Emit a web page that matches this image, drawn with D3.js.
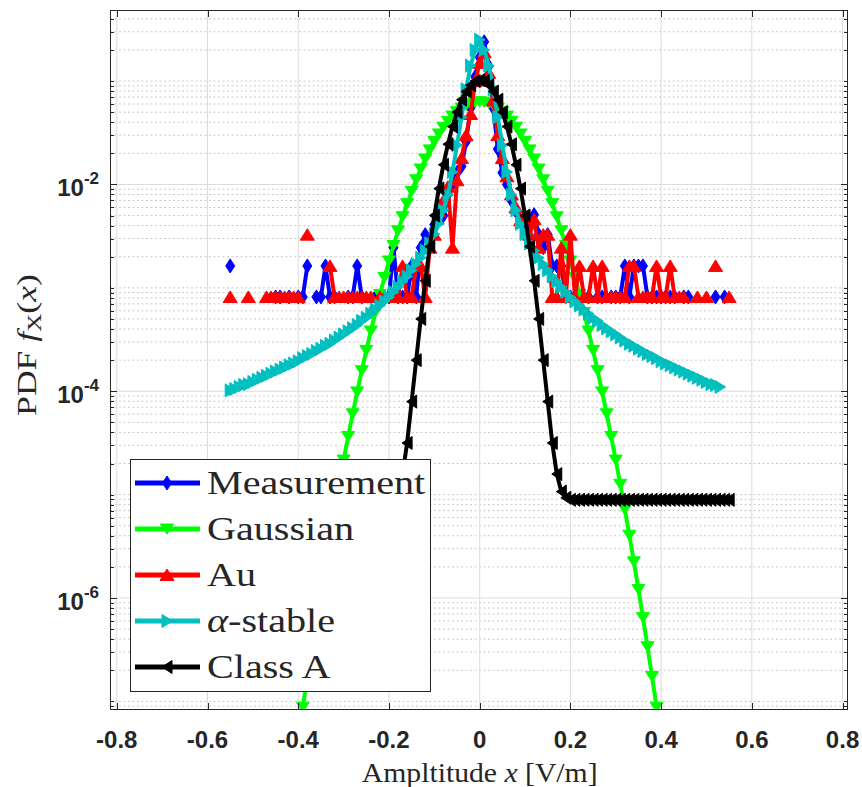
<!DOCTYPE html>
<html><head><meta charset="utf-8">
<script src="https://cdn.jsdelivr.net/npm/d3@7"></script>
<style>body{margin:0;background:#fff}svg{display:block}</style>
</head><body><svg id="c" width="862" height="787"></svg>
<script>
// ---------- data ----------
const xBins = d3.range(-55, 56).map(i => i / 100); // bin centres, -0.55 ... 0.55

const measurement = [
1.63e-3,null,null,null,null,null,null,null,null,null,
8.17e-4,8.17e-4,null,8.17e-4,null,8.17e-4,8.17e-4,1.63e-3,null,8.17e-4,
8.17e-4,1.63e-3,8.17e-4,8.17e-4,null,null,8.17e-4,8.17e-4,1.63e-3,8.17e-4,
null,null,8.17e-4,null,8.17e-4,8.17e-4,2.45e-3,8.17e-4,8.17e-4,8.17e-4,
1.63e-3,8.17e-4,2.45e-3,3.27e-3,2.45e-3,4.09e-3,6.2e-3,5.0e-3,8.0e-3,1.0e-2,
1.3e-2,1.5e-2,2.6e-2,5.5e-2,0.11,0.17,0.24,0.14,5.5e-2,2.2e-2,
1.3e-2,1.0e-2,7.0e-3,5.5e-3,4.5e-3,3.5e-3,4.2e-3,5.1e-3,3.27e-3,2.45e-3,
3.27e-3,1.63e-3,1.63e-3,1.63e-3,8.17e-4,8.17e-4,null,8.17e-4,null,8.17e-4,
null,8.17e-4,8.17e-4,null,8.17e-4,8.17e-4,8.17e-4,1.63e-3,8.17e-4,1.63e-3,
1.63e-3,1.63e-3,8.17e-4,8.17e-4,8.17e-4,8.17e-4,8.17e-4,8.17e-4,8.17e-4,null,
8.17e-4,8.17e-4,null,null,null,null,null,8.17e-4,null,8.17e-4,
null];

const gaussian = [
null,null,null,null,null,null,null,null,null,null,
null,null,null,1.02e-8,2.13e-8,4.37e-8,8.79e-8,1.74e-7,3.38e-7,6.46e-7,
1.21e-6,2.24e-6,4.05e-6,7.20e-6,1.26e-5,2.16e-5,3.65e-5,6.05e-5,9.85e-5,1.58e-4,
2.48e-4,3.82e-4,5.80e-4,8.64e-4,1.26e-3,1.82e-3,2.57e-3,3.57e-3,4.87e-3,6.52e-3,
8.59e-3,1.11e-2,1.41e-2,1.76e-2,2.16e-2,2.60e-2,3.08e-2,3.58e-2,4.09e-2,4.59e-2,
5.05e-2,5.48e-2,5.83e-2,6.09e-2,6.25e-2,6.31e-2,6.25e-2,6.09e-2,5.83e-2,5.48e-2,
5.05e-2,4.59e-2,4.09e-2,3.58e-2,3.08e-2,2.60e-2,2.16e-2,1.76e-2,1.41e-2,1.11e-2,
8.59e-3,6.52e-3,4.87e-3,3.57e-3,2.57e-3,1.82e-3,1.26e-3,8.64e-4,5.80e-4,3.82e-4,
2.48e-4,1.58e-4,9.85e-5,6.05e-5,3.65e-5,2.16e-5,1.26e-5,7.20e-6,4.05e-6,2.24e-6,
1.21e-6,6.46e-7,3.38e-7,1.74e-7,8.79e-8,4.37e-8,2.13e-8,1.02e-8,null,null,
null,null,null,null,null,null,null,null,null,null,
null];

const au = [
8.17e-4,null,null,null,8.17e-4,null,null,null,8.17e-4,8.17e-4,
8.17e-4,8.17e-4,8.17e-4,8.17e-4,8.17e-4,8.17e-4,null,3.27e-3,null,null,
null,null,1.63e-3,8.17e-4,8.17e-4,8.17e-4,8.17e-4,8.17e-4,8.17e-4,8.17e-4,
8.17e-4,8.17e-4,null,8.17e-4,8.17e-4,8.17e-4,null,8.17e-4,1.63e-3,8.17e-4,
8.17e-4,1.63e-3,1.63e-3,8.17e-4,2.45e-3,3.27e-3,5.5e-3,7.0e-3,9.5e-3,2.45e-3,
1.1e-2,1.8e-2,3.0e-2,4.8e-2,0.10,0.15,0.19,0.12,6.5e-2,3.0e-2,
1.8e-2,1.2e-2,8.0e-3,6.0e-3,4.5e-3,5.0e-3,3.27e-3,4.6e-3,2.45e-3,3.27e-3,
3.27e-3,8.17e-4,8.17e-4,2.45e-3,8.17e-4,3.27e-3,8.17e-4,1.63e-3,8.17e-4,8.17e-4,
1.63e-3,8.17e-4,1.63e-3,8.17e-4,8.17e-4,8.17e-4,8.17e-4,8.17e-4,1.63e-3,1.63e-3,
8.17e-4,8.17e-4,8.17e-4,8.17e-4,1.63e-3,8.17e-4,8.17e-4,1.63e-3,8.17e-4,8.17e-4,
8.17e-4,null,null,8.17e-4,null,8.17e-4,null,1.63e-3,null,null,
8.17e-4];

const alphaStable = [
1.02e-4,1.05e-4,1.10e-4,1.15e-4,1.17e-4,1.23e-4,1.29e-4,1.35e-4,1.41e-4,1.48e-4,
1.55e-4,1.62e-4,1.70e-4,1.78e-4,1.86e-4,1.95e-4,2.09e-4,2.19e-4,2.29e-4,2.45e-4,
2.57e-4,2.75e-4,2.88e-4,3.09e-4,3.31e-4,3.55e-4,3.80e-4,4.07e-4,4.37e-4,4.79e-4,
5.13e-4,5.62e-4,6.17e-4,6.76e-4,7.41e-4,8.13e-4,9.12e-4,1.02e-3,1.15e-3,1.29e-3,
1.48e-3,1.70e-3,1.95e-3,2.29e-3,2.69e-3,3.31e-3,4.17e-3,5.62e-3,7.94e-3,1.32e-2,
2.40e-2,4.47e-2,8.32e-2,0.141,0.200,0.251,0.200,0.141,8.32e-2,4.47e-2,
2.40e-2,1.32e-2,7.94e-3,5.62e-3,4.17e-3,3.31e-3,2.69e-3,2.29e-3,1.95e-3,1.70e-3,
1.48e-3,1.29e-3,1.15e-3,1.02e-3,9.12e-4,8.13e-4,7.41e-4,6.76e-4,6.17e-4,5.62e-4,
5.13e-4,4.79e-4,4.37e-4,4.07e-4,3.80e-4,3.55e-4,3.31e-4,3.09e-4,2.88e-4,2.75e-4,
2.57e-4,2.45e-4,2.29e-4,2.19e-4,2.09e-4,1.95e-4,1.86e-4,1.78e-4,1.70e-4,1.62e-4,
1.55e-4,1.48e-4,1.41e-4,1.35e-4,1.29e-4,1.23e-4,1.17e-4,1.15e-4,1.10e-4,null,
null];

const classA = [
8.91e-6,8.91e-6,8.91e-6,8.91e-6,8.91e-6,8.91e-6,8.91e-6,8.91e-6,8.91e-6,8.91e-6,
8.91e-6,8.91e-6,8.91e-6,8.91e-6,8.91e-6,8.91e-6,8.91e-6,8.91e-6,8.91e-6,8.91e-6,
8.91e-6,8.91e-6,8.91e-6,8.91e-6,8.91e-6,8.91e-6,8.91e-6,8.91e-6,8.91e-6,8.91e-6,
8.91e-6,8.91e-6,8.91e-6,8.91e-6,8.91e-6,8.91e-6,9.33e-6,1.07e-5,1.58e-5,3.16e-5,
7.94e-5,2.00e-4,5.01e-4,1.17e-3,2.51e-3,5.01e-3,9.12e-3,1.55e-2,2.45e-2,3.63e-2,
5.01e-2,6.61e-2,7.94e-2,9.12e-2,0.100,0.102,0.100,9.12e-2,7.94e-2,6.61e-2,
5.01e-2,3.63e-2,2.45e-2,1.55e-2,9.12e-3,5.01e-3,2.51e-3,1.17e-3,5.01e-4,2.00e-4,
7.94e-5,3.16e-5,1.58e-5,1.07e-5,9.33e-6,8.91e-6,8.91e-6,8.91e-6,8.91e-6,8.91e-6,
8.91e-6,8.91e-6,8.91e-6,8.91e-6,8.91e-6,8.91e-6,8.91e-6,8.91e-6,8.91e-6,8.91e-6,
8.91e-6,8.91e-6,8.91e-6,8.91e-6,8.91e-6,8.91e-6,8.91e-6,8.91e-6,8.91e-6,8.91e-6,
8.91e-6,8.91e-6,8.91e-6,8.91e-6,8.91e-6,8.91e-6,8.91e-6,8.91e-6,8.91e-6,8.91e-6,
8.91e-6];

const seriesNames = ["Measurement", "Gaussian", "Au", "\u03b1-stable", "Class A"];
const seriesColors = ["#0000ff", "#00ff00", "#ff0000", "#00bfbf", "#000000"];
const seriesMarkers = ["diamond", "down", "up", "right", "left"];
const seriesValues = [measurement, gaussian, au, alphaStable, classA];

const xTicks = [-0.8, -0.6, -0.4, -0.2, 0, 0.2, 0.4, 0.6, 0.8];
const xTickLabels = ["-0.8", "-0.6", "-0.4", "-0.2", "0", "0.2", "0.4", "0.6", "0.8"];
const yTicks = [1e-6, 1e-4, 1e-2];
const yTickExponents = ["-6", "-4", "-2"];

// ---------- drawing ----------
const svg = d3.select("#c");
const L = 110, R = 848, T = 10, B = 710;
const x = d3.scaleLinear().domain([-0.815, 0.812]).range([L, R]);
const y = d3.scaleLog().domain([8.26e-8, 0.487]).range([B, T]);
const axisColor = "#262626";

svg.append("rect").attr("width", 862).attr("height", 787).attr("fill", "#fff");
svg.append("defs").append("clipPath").attr("id", "plotClip")
  .append("rect").attr("x", L).attr("y", T).attr("width", R - L).attr("height", B - T);

// minor y values
const yMinor = [];
for (let n = -8; n <= 0; n++) for (let k = 1; k <= 9; k++) {
  const v = k * Math.pow(10, n);
  const isMajor = yTicks.some(t => Math.abs(t - v) / t < 1e-9);
  if (!isMajor && v >= y.domain()[0] && v <= y.domain()[1]) yMinor.push(v);
}

const grid = svg.append("g");
grid.selectAll(".ymin").data(yMinor).join("line")
  .attr("x1", L).attr("x2", R).attr("y1", d => y(d)).attr("y2", d => y(d))
  .attr("stroke", "#c9c9c9").attr("stroke-width", 1).attr("stroke-dasharray", "2,2.5");
grid.selectAll(".ymaj").data(yTicks).join("line")
  .attr("x1", L).attr("x2", R).attr("y1", d => y(d)).attr("y2", d => y(d))
  .attr("stroke", "#dcdcdc").attr("stroke-width", 1);
grid.selectAll(".xmaj").data(xTicks).join("line")
  .attr("y1", T).attr("y2", B).attr("x1", d => x(d)).attr("x2", d => x(d))
  .attr("stroke", "#dcdcdc").attr("stroke-width", 1);

// series
const markerPath = {
  diamond: "M0,-7L4.5,0L0,7L-4.5,0Z",
  down: "M-6.5,-5L6.5,-5L0,5.2Z",
  up: "M-7,5.5L7,5.5L0,-6Z",
  right: "M-5,-6.5L5.5,0L-5,6.5Z",
  left: "M5,-6.5L-5,0L5,6.5Z"
};
const plot = svg.append("g").attr("clip-path", "url(#plotClip)");
seriesValues.forEach((vals, s) => {
  const pts = xBins.map((xv, i) => ({ x: xv, v: vals[i] }));
  const line = d3.line().defined(d => d.v != null && d.v > 0)
    .x(d => x(d.x)).y(d => y(d.v));
  const g = plot.append("g");
  g.append("path").datum(pts).attr("d", line).attr("fill", "none")
    .attr("stroke", seriesColors[s]).attr("stroke-width", 4)
    .attr("stroke-linejoin", "round");
  g.selectAll("path.m").data(pts.filter(d => d.v != null && d.v > 0)).join("path")
    .attr("class", "m").attr("d", markerPath[seriesMarkers[s]])
    .attr("transform", d => `translate(${x(d.x)},${y(d.v)})`)
    .attr("fill", seriesColors[s]).attr("stroke", seriesColors[s]).attr("stroke-width", 1);
});

// axes box and ticks
const ax = svg.append("g").attr("stroke", axisColor).attr("stroke-width", 1).attr("fill", "none");
ax.append("rect").attr("x", L + 0.5).attr("y", T + 0.5).attr("width", R - L - 1).attr("height", B - T - 1);
xTicks.forEach(t => {
  const px = Math.round(x(t)) + 0.5;
  ax.append("line").attr("x1", px).attr("x2", px).attr("y1", B).attr("y2", B - 7);
  ax.append("line").attr("x1", px).attr("x2", px).attr("y1", T).attr("y2", T + 7);
});
yTicks.forEach(t => {
  const py = Math.round(y(t)) + 0.5;
  ax.append("line").attr("x1", L).attr("x2", L + 7).attr("y1", py).attr("y2", py);
  ax.append("line").attr("x1", R).attr("x2", R - 7).attr("y1", py).attr("y2", py);
});
yMinor.forEach(t => {
  const py = Math.round(y(t)) + 0.5;
  ax.append("line").attr("x1", L).attr("x2", L + 4).attr("y1", py).attr("y2", py);
  ax.append("line").attr("x1", R).attr("x2", R - 4).attr("y1", py).attr("y2", py);
});

// tick labels
svg.append("g").selectAll("text").data(xTicks).join("text")
  .attr("x", d => x(d)).attr("y", 748).attr("text-anchor", "middle")
  .attr("font-family", "'Liberation Sans', Arial, sans-serif").attr("font-weight", "bold")
  .attr("font-size", 24).attr("fill", axisColor)
  .text((d, i) => xTickLabels[i]);
yTicks.forEach((t, i) => {
  const tx = svg.append("text").attr("x", 99).attr("y", y(t) + 12).attr("text-anchor", "end")
    .attr("font-family", "'Liberation Sans', Arial, sans-serif").attr("font-weight", "bold")
    .attr("fill", axisColor);
  tx.append("tspan").attr("font-size", 24).text("10");
  tx.append("tspan").attr("font-size", 17).attr("dy", -12).text(yTickExponents[i]);
});

// axis labels
const serif = "'Liberation Serif', 'Times New Roman', serif";
const xl = svg.append("text").attr("transform", `translate(${x(0)},782) scale(1.1,1)`)
  .attr("text-anchor", "middle").attr("font-family", serif).attr("font-size", 27).attr("fill", axisColor);
xl.append("tspan").text("Ampltitude ");
xl.append("tspan").attr("font-style", "italic").text("x");
xl.append("tspan").text(" [V/m]");

const yl = svg.append("text").attr("transform", `translate(36,345) rotate(-90) scale(1.32,1)`)
  .attr("text-anchor", "middle").attr("font-family", serif).attr("font-size", 27).attr("fill", axisColor);
yl.append("tspan").text("PDF ");
yl.append("tspan").attr("font-style", "italic").text("f");
yl.append("tspan").attr("font-size", 19).attr("dy", 5).text("X");
yl.append("tspan").attr("dy", -5).text("(");
yl.append("tspan").attr("font-style", "italic").text("x");
yl.append("tspan").text(")");

// legend
const lg = svg.append("g");
lg.append("rect").attr("x", 130.5).attr("y", 459.5).attr("width", 300).attr("height", 232)
  .attr("fill", "#fff").attr("stroke", axisColor).attr("stroke-width", 1);
seriesNames.forEach((name, s) => {
  const cy = 483 + s * 46;
  lg.append("line").attr("x1", 135).attr("x2", 200).attr("y1", cy).attr("y2", cy)
    .attr("stroke", seriesColors[s]).attr("stroke-width", 5);
  lg.append("path").attr("d", markerPath[seriesMarkers[s]])
    .attr("transform", `translate(167,${cy})`).attr("fill", seriesColors[s])
    .attr("stroke", seriesColors[s]).attr("stroke-width", 1);
  const t = lg.append("text").attr("transform", `translate(207,${cy + 11}) scale(1.18,1)`)
    .attr("font-family", serif).attr("font-size", 34).attr("fill", axisColor);
  if (name.startsWith("\u03b1")) {
    t.append("tspan").attr("font-style", "italic").text("\u03b1");
    t.append("tspan").text(name.slice(1));
  } else t.text(name);
});
</script></body></html>
